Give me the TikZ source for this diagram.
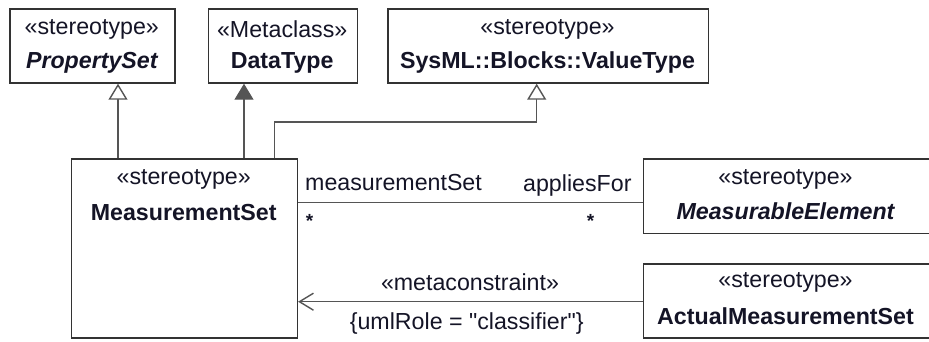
\documentclass[tikz,border=0pt]{standalone}
\usepackage{fontspec}
\setmainfont{Liberation Sans}[Ligatures=TeXOff]
\usetikzlibrary{arrows.meta,calc}
\definecolor{txt}{HTML}{141426}
\definecolor{boxc}{HTML}{333333}
\definecolor{linec}{HTML}{555555}
\tikzset{
  umlbox/.style={draw=boxc, line width=1.4pt, fill=white, anchor=north west, inner sep=0pt},
  lbl/.style={font=\fontsize{23.2}{26}\selectfont, text=txt, inner sep=0pt},
  star/.style={font=\fontsize{19}{20}\selectfont\bfseries, text=txt, inner sep=0pt},
  conn/.style={draw=linec, line width=1.3pt},
  gen/.style={conn, -{Triangle[open, length=16pt, width=19pt, line width=1.4pt, fill=white]}},
  genf/.style={conn, -{Triangle[length=16pt, width=19pt, fill=linec]}},
  dep/.style={conn, -{Straight Barb[length=14pt, width=17pt, line width=1.4pt]}},
}
\begin{document}
\begin{tikzpicture}[x=1pt,y=-1pt]
\useasboundingbox (0,0) rectangle (929,341);
\clip (0,0) rectangle (929,341);
% boxes
\node[umlbox, minimum width=165pt, minimum height=74pt] (ps) at (9.3,8.3) {};
\node[umlbox, minimum width=149pt, minimum height=74pt] (dt) at (207.7,8.3) {};
\node[umlbox, minimum width=320.4pt, minimum height=74pt] (vt) at (387.3,8.3) {};
\node[umlbox, minimum width=226pt, minimum height=179pt] (ms) at (70.7,158.3) {};
\node[umlbox, minimum width=300pt, minimum height=74.4pt] (me) at (642.7,158.3) {};
\node[umlbox, minimum width=300pt, minimum height=74pt] (am) at (642.7,263.3) {};
% box texts
\node[lbl] (psS) at (91.8,29.3) {«stereotype»};
\node[lbl] (psN) at (91.8,62.7) {\bfseries\itshape PropertySet};
\node[lbl] (dtS) at (282.2,29.3) {«Metaclass»};
\node[lbl] (dtN) at (282.2,62.7) {\bfseries DataType};
\node[lbl] (vtS) at (547.5,29.3) {«stereotype»};
\node[lbl] (vtN) at (547.5,62.7) {\bfseries SysML::Blocks::ValueType};
\node[lbl] (msS) at (183.7,179) {«stereotype»};
\node[lbl] (msN) at (183.7,213) {\bfseries MeasurementSet};
\node[lbl] (meS) at (785.5,179.3) {«stereotype»};
\node[lbl] (meN) at (785.5,211.7) {\bfseries\itshape MeasurableElement};
\node[lbl] (amS) at (785.5,282.7) {«stereotype»};
\node[lbl] (amN) at (785.5,316.7) {\bfseries ActualMeasurementSet};
% generalizations
\coordinate (g1) at ($(ms.north west)+(47.3,0)$);
\draw[gen] (g1) -- (g1 |- ps.south);
\coordinate (g2) at ($(ms.north west)+(173.3,0)$);
\draw[genf] (g2) -- (g2 |- dt.south);
\coordinate (g3) at ($(ms.north west)+(203.6,0)$);
\coordinate (g3b) at (536.7,122);
\draw[gen] (g3) |- (g3b) -- (g3b |- vt.south);
% association
\coordinate (as) at (ms.east |- 0,202.3);
\draw[conn] (as) -- (as -| me.west);
\node[lbl, anchor=west] (l1) at (305,183) {measurementSet};
\node[lbl, anchor=east] (l2) at (631.7,185.5) {appliesFor};
\node[star] (s1) at (309.5,221) {*};
\node[star] (s2) at (590.5,221) {*};
% metaconstraint
\coordinate (mc) at (am.west |- 0,301.7);
\draw[dep] (mc) -- (mc -| ms.east);
\node[lbl] (mcS) at (470,281.7) {«metaconstraint»};
\node[lbl] (mcC) at (466.7,323) {\{umlRole = "classifier"\}};
\end{tikzpicture}
\end{document}
